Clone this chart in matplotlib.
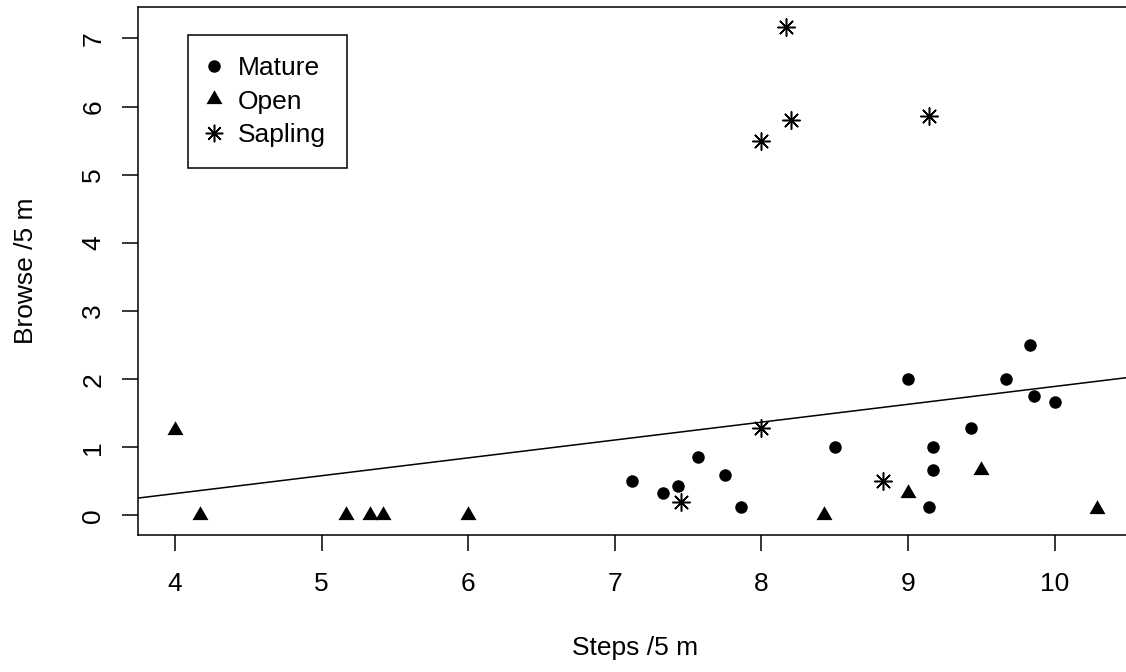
import matplotlib.pyplot as plt
from matplotlib.lines import Line2D
import numpy as np

# values
mature_x = [7.12, 7.33, 7.43, 7.57, 7.75, 7.86, 8.50, 9.00, 9.17, 9.17, 9.14, 9.43, 9.67, 9.83, 9.86, 10.00]
mature_y = [0.50, 0.33, 0.43, 0.86, 0.60, 0.13, 1.00, 2.00, 1.00, 0.67, 0.13, 1.29, 2.00, 2.50, 1.75, 1.67]
open_x = [4.00, 4.17, 5.17, 5.33, 5.42, 6.00, 8.43, 9.00, 9.50, 10.29]
open_y = [1.25, 0.00, 0.00, 0.00, 0.00, 0.00, 0.00, 0.33, 0.67, 0.10]
sapling_x = [8.00, 7.45, 8.83, 8.17, 8.20, 8.00, 9.14]
sapling_y = [1.29, 0.20, 0.50, 7.17, 5.80, 5.50, 5.86]
fit_intercept = -0.727
fit_slope = 0.262

x_ticks = [4, 5, 6, 7, 8, 9, 10]
y_ticks = [0, 1, 2, 3, 4, 5, 6, 7]

plt.rcParams['font.family'] = ['Liberation Sans', 'DejaVu Sans']
plt.rcParams['font.size'] = 19

fig = plt.figure(figsize=(11.26, 6.72), dpi=100)
# axes run past the right edge, as in the reference
ax = fig.add_axes([138 / 1126, 137 / 672, 996 / 1126, 527.7 / 672])

# R-like equilateral triangle with centroid at the point
tri = [(0, 1), (-0.866, -0.5), (0.866, -0.5)]

ax.scatter(mature_x, mature_y, marker='o', s=9.0 ** 2, color='black', linewidths=0)
ax.scatter(open_x, open_y, marker=tri, s=13.3 ** 2, color='black', linewidths=0)
ax.scatter(sapling_x, sapling_y, marker=(8, 2, 0), s=12.6 ** 2, color='black', linewidths=1.1)
ax.axline((0, fit_intercept), slope=fit_slope, color='black', lw=1.1)

# R's default 4% padding around the data range
all_x = np.concatenate([mature_x, open_x, sapling_x])
all_y = np.concatenate([mature_y, open_y, sapling_y])
dx = (all_x.max() - all_x.min()) * 0.04
dy = (all_y.max() - all_y.min()) * 0.04
ax.set_xlim(all_x.min() - dx, all_x.max() + dx)
ax.set_ylim(all_y.min() - dy, all_y.max() + dy)

ax.set_xticks(x_ticks)
ax.set_yticks(y_ticks)
for s in ax.spines.values():
    s.set_linewidth(1.1)
ax.tick_params(axis='both', length=11.5, width=1.1, colors='black')
ax.tick_params(axis='x', pad=15)
ax.tick_params(axis='y', pad=12)
for lab in ax.get_yticklabels():
    lab.set_rotation(90)
    lab.set_va('center')

ax.set_xlabel('Steps /5 m')
ax.xaxis.set_label_coords(0.499, -0.191)
ax.set_ylabel('Browse /5 m')
ax.yaxis.set_label_coords(-0.100, 0.5)

handles = [
    Line2D([], [], marker='o', ls='none', color='black', markersize=9.0, markeredgewidth=0),
    Line2D([], [], marker=tri, ls='none', color='black', markersize=13.3, markeredgewidth=0),
    Line2D([], [], marker=(8, 2, 0), ls='none', color='black', markersize=12.6, markeredgewidth=1.1),
]
leg = ax.legend(handles, ['Mature', 'Open', 'Sapling'], loc='upper left',
                bbox_to_anchor=(0.0502, 0.9475), borderaxespad=0, fancybox=False,
                edgecolor='black', framealpha=1, borderpad=0.8, labelspacing=0.36,
                handlelength=0.4, handletextpad=0.7)
leg.get_frame().set_linewidth(1.1)

fig.savefig('out.png', dpi=100)
